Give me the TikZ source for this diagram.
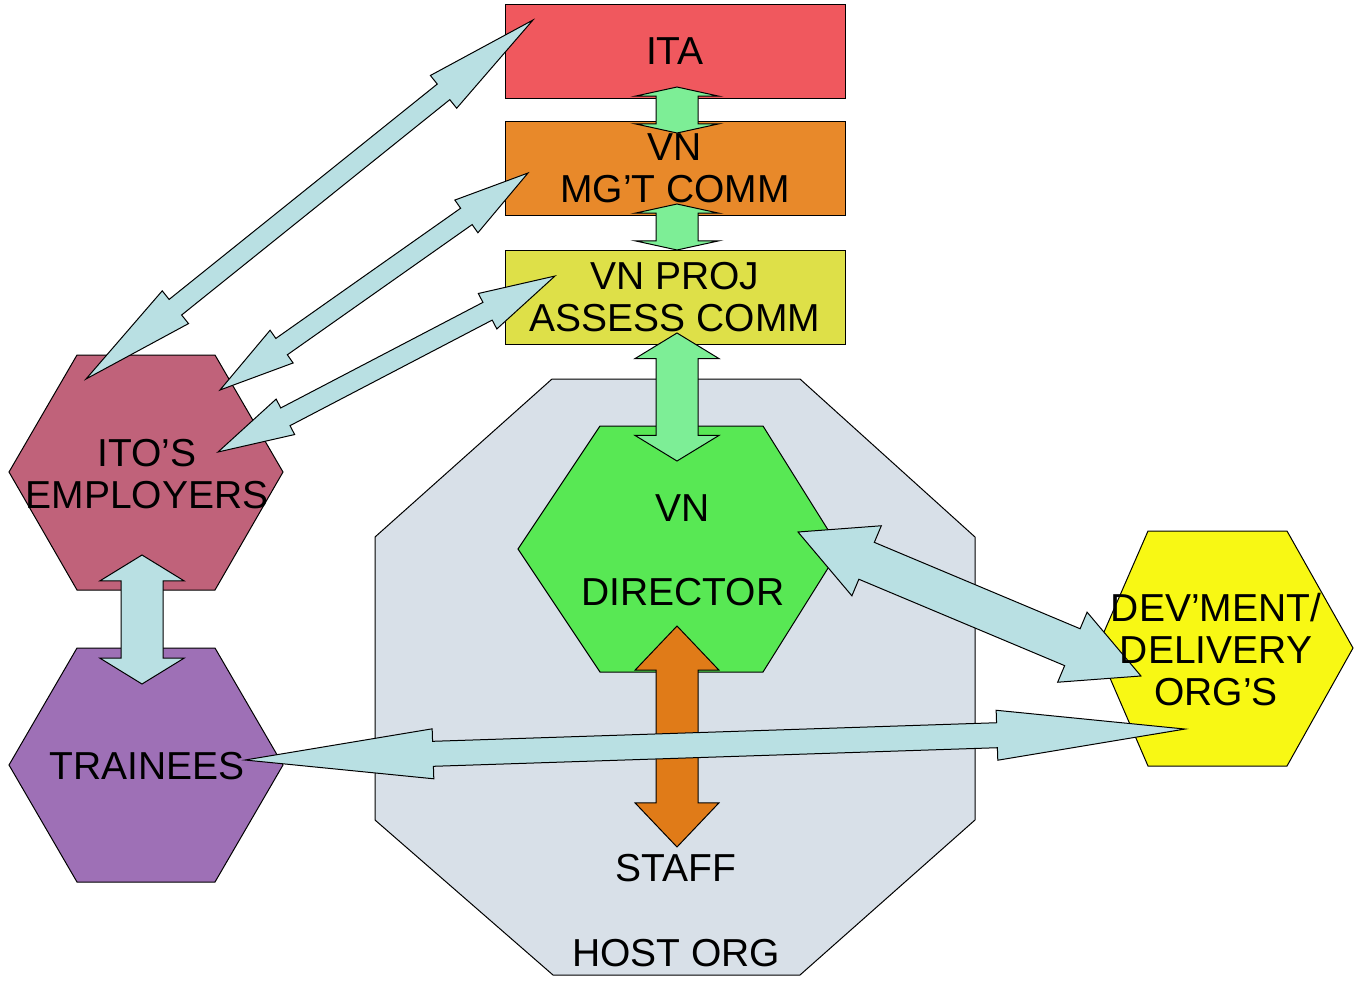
\documentclass[tikz,border=0pt]{standalone}
\usepackage{fontspec}
\setmainfont{Liberation Sans}
\usetikzlibrary{calc}
\definecolor{itared}{RGB}{240,88,94}
\definecolor{mgtorange}{RGB}{232,137,42}
\definecolor{projyellow}{RGB}{222,224,72}
\definecolor{dirgreen}{RGB}{88,232,84}
\definecolor{linkgreen}{RGB}{125,238,150}
\definecolor{stafforange}{RGB}{224,123,24}
\definecolor{hostgrey}{RGB}{216,224,232}
\definecolor{emppink}{RGB}{192,98,122}
\definecolor{trainpurple}{RGB}{158,112,182}
\definecolor{devyellow}{RGB}{248,248,20}
\definecolor{linkblue}{RGB}{185,224,227}
% block double arrow: [fill] {from} {to} {half shaft} {half head}
\newcommand\dblarrow[5][linkblue]{%
  \path let \p1=(#2), \p2=(#3), \n1={atan2(\y2-\y1,\x2-\x1)}, \n2={veclen(\x2-\x1,\y2-\y1)} in
    \pgfextra{\xdef\arang{\n1}\xdef\arlen{\n2}\xdef\arx{\x1}\xdef\ary{\y1}};
  \begin{scope}[shift={(\arx,\ary)}, rotate=\arang, x=1pt, y=1pt]
    \filldraw[fill=#1, line join=miter] (0,0) -- (0.2*\arlen,#5) -- (0.2*\arlen,#4) -- (0.8*\arlen,#4) -- (0.8*\arlen,#5) -- (\arlen,0)
      -- (0.8*\arlen,-#5) -- (0.8*\arlen,-#4) -- (0.2*\arlen,-#4) -- (0.2*\arlen,-#5) -- cycle;
  \end{scope}}
\begin{document}
\begin{tikzpicture}[x=1pt, y=-1pt, line width=1pt,
  lbl/.style={font=\fontsize{39}{42}\selectfont, align=center, inner sep=0pt},
  box/.style={lbl, draw, minimum width=340pt, minimum height=94pt}]
\useasboundingbox (0,0) rectangle (1354,980);
% host org and the hexagons
\filldraw[fill=hostgrey] (552,379) -- (800,379) -- (975,537) -- (975,820) -- (800,975) -- (553,975) -- (375,820) -- (375,537) -- cycle;
\filldraw[fill=dirgreen] (518,549) -- (600,426) -- (763,426) -- (840,549) -- (763,672) -- (600,672) -- cycle;
\filldraw[fill=emppink] (9,472) -- (77,355) -- (215,355) -- (283,472) -- (215,590) -- (77,590) -- cycle;
\filldraw[fill=trainpurple] (9,765) -- (77,648) -- (215,648) -- (283,765) -- (215,882) -- (77,882) -- cycle;
\filldraw[fill=devyellow] (1097,648) -- (1148,531) -- (1287,531) -- (1353,648) -- (1287,766) -- (1148,766) -- cycle;
% committees
\node[box, fill=itared] (ita) at (675,51) {ITA};
\node[box, fill=mgtorange] (mgt) at (675,168.5) {VN\\MG’T COMM};
\node[box, fill=projyellow] (proj) at (675,297) {VN PROJ\\ASSESS COMM};
% arrow ends
\coordinate (ita-e) at (533,20); \coordinate (emp-a) at (86,379);
\coordinate (mgt-e) at (528,173); \coordinate (emp-b) at (220,390);
\coordinate (proj-e) at (555,276); \coordinate (emp-c) at (218,452);
\coordinate (ita-s) at (677,87); \coordinate (mgt-n) at (677,133);
\coordinate (mgt-s) at (677,204); \coordinate (proj-n) at (677,250);
\coordinate (proj-s) at (677,333); \coordinate (dir-n) at (677,461);
\coordinate (dir-s) at (677,626); \coordinate (staff-n) at (677,847);
\coordinate (emp-s) at (142,555); \coordinate (trn-n) at (142,684);
\coordinate (dir-e) at (798,532); \coordinate (dev-w) at (1141,676);
\coordinate (trn-e) at (245,760); \coordinate (dev-s) at (1185,729);
\dblarrow[linkgreen]{ita-s}{mgt-n}{21}{42}
\dblarrow[linkgreen]{mgt-s}{proj-n}{21}{42}
\dblarrow[linkgreen]{proj-s}{dir-n}{21}{42}
\dblarrow[stafforange]{dir-s}{staff-n}{21}{42}
\dblarrow{emp-s}{trn-n}{21}{42}
\dblarrow{emp-a}{ita-e}{10}{21}
\dblarrow{emp-b}{mgt-e}{10}{20}
\dblarrow{emp-c}{proj-e}{10}{20}
\dblarrow{dir-e}{dev-w}{20}{38}
\dblarrow{trn-e}{dev-s}{12.5}{25}
% labels
\node[lbl] (emp) at (147,474) {ITO’S\\EMPLOYERS};
\node[lbl] (trn) at (147,766) {TRAINEES};
\node[lbl] (dir) at (683,550) {VN\\[42pt]DIRECTOR};
\node[lbl] (dev) at (1216,650) {DEV’MENT/\\DELIVERY\\ORG’S};
\node[lbl] (staff) at (676,868) {STAFF};
\node[lbl] (host) at (676,953) {HOST ORG};
\end{tikzpicture}
\end{document}
